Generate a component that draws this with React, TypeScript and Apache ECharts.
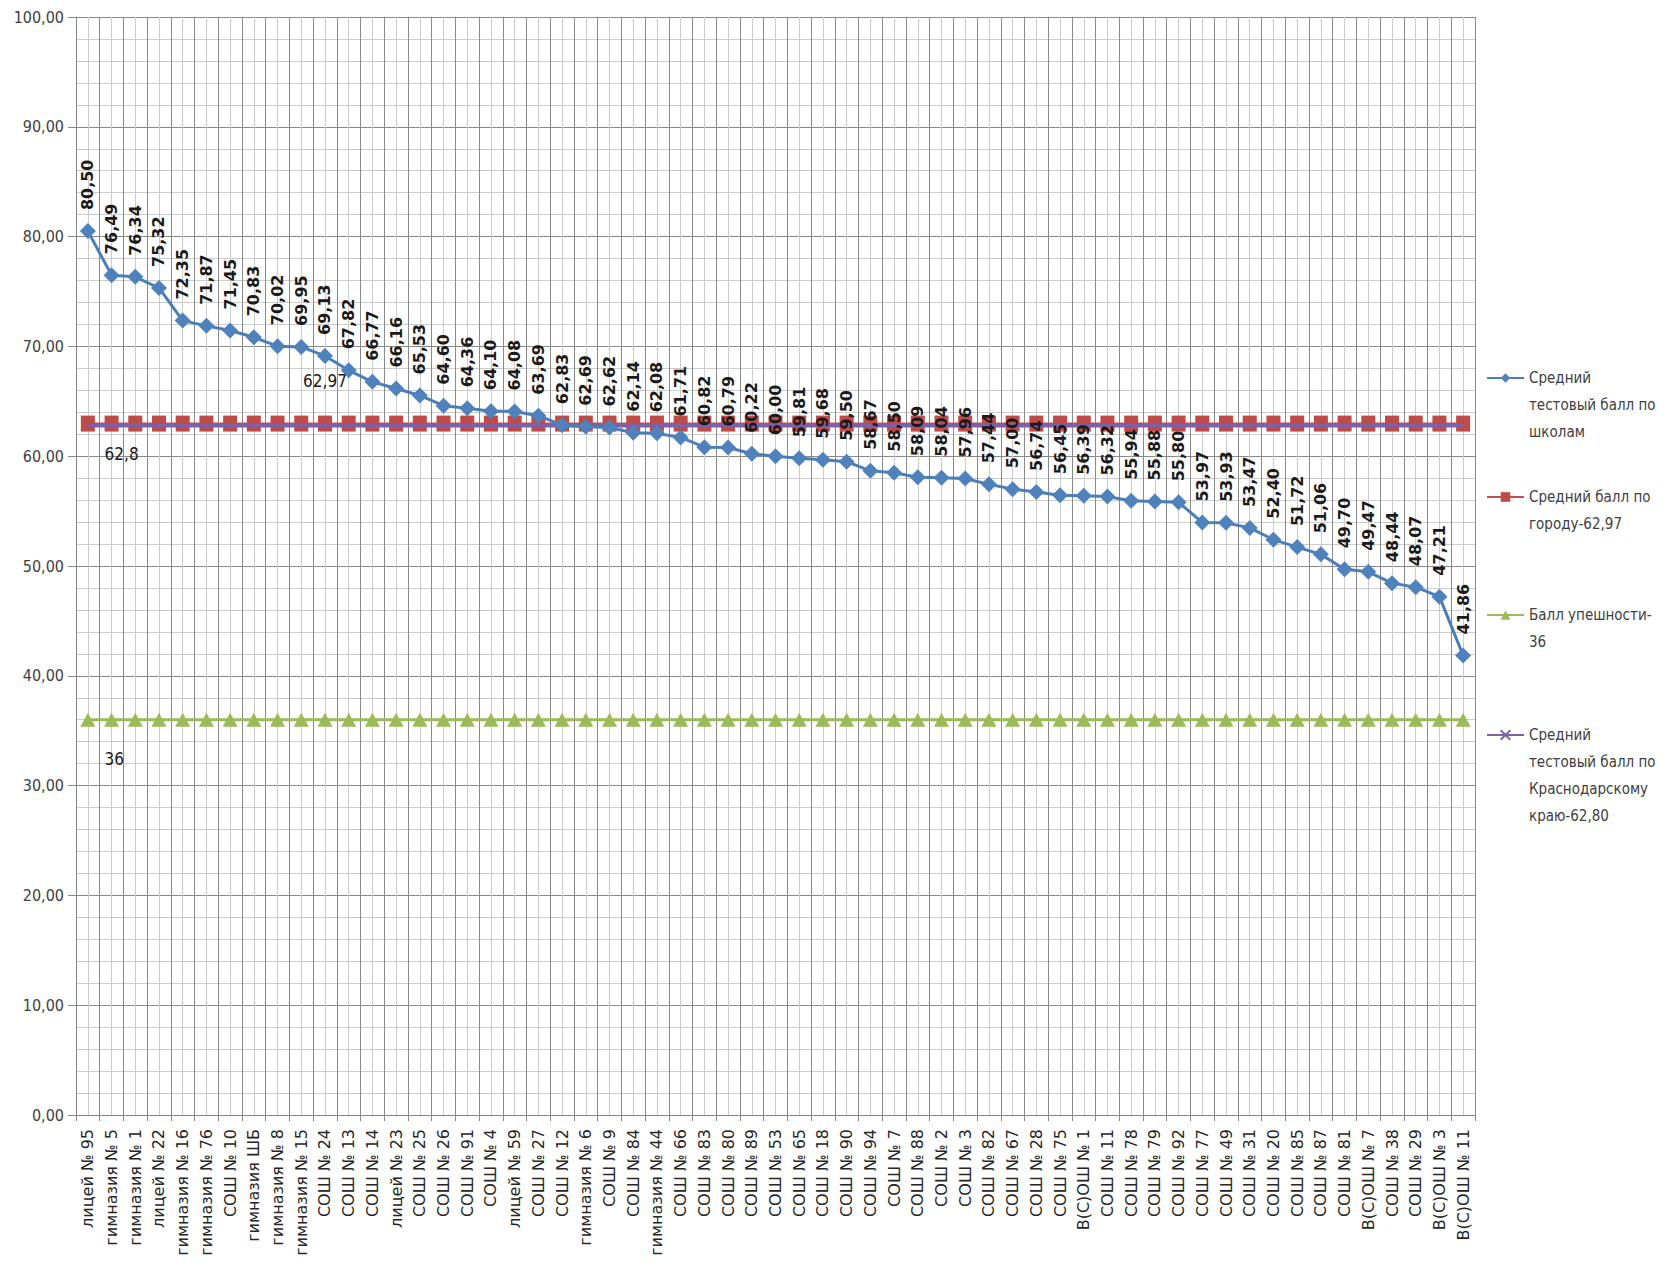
import React, { useEffect, useRef } from "react";
import * as echarts from "echarts";

const schools = [
  "лицей № 95", "гимназия № 5", "гимназия № 1", "лицей № 22", "гимназия № 16",
  "гимназия № 76", "СОШ № 10", "гимназия ШБ", "гимназия № 8", "гимназия № 15",
  "СОШ № 24", "СОШ № 13", "СОШ № 14", "лицей № 23", "СОШ № 25",
  "СОШ № 26", "СОШ № 91", "СОШ № 4", "лицей № 59", "СОШ № 27",
  "СОШ № 12", "гимназия № 6", "СОШ № 9", "СОШ № 84", "гимназия № 44",
  "СОШ № 66", "СОШ № 83", "СОШ № 80", "СОШ № 89", "СОШ № 53",
  "СОШ № 65", "СОШ № 18", "СОШ № 90", "СОШ № 94", "СОШ № 7",
  "СОШ № 88", "СОШ № 2", "СОШ № 3", "СОШ № 82", "СОШ № 67",
  "СОШ № 28", "СОШ № 75", "В(С)ОШ № 1", "СОШ № 11", "СОШ № 78",
  "СОШ № 79", "СОШ № 92", "СОШ № 77", "СОШ № 49", "СОШ № 31",
  "СОШ № 20", "СОШ № 85", "СОШ № 87", "СОШ № 81", "В(С)ОШ № 7",
  "СОШ № 38", "СОШ № 29", "В(С)ОШ № 3", "В(С)ОШ № 11",
];

const schoolScores = [
  80.5, 76.49, 76.34, 75.32, 72.35, 71.87, 71.45, 70.83, 70.02, 69.95,
  69.13, 67.82, 66.77, 66.16, 65.53, 64.6, 64.36, 64.1, 64.08, 63.69,
  62.83, 62.69, 62.62, 62.14, 62.08, 61.71, 60.82, 60.79, 60.22, 60.0,
  59.81, 59.68, 59.5, 58.67, 58.5, 58.09, 58.04, 57.96, 57.44, 57.0,
  56.74, 56.45, 56.39, 56.32, 55.94, 55.88, 55.8, 53.97, 53.93, 53.47,
  52.4, 51.72, 51.06, 49.7, 49.47, 48.44, 48.07, 47.21, 41.86,
];

const cityAverage = 62.97;
const passScore = 36;
const regionAverage = 62.8;

const cityLabelIndex = 10;
const cityLabelText = "62,97";
const regionLabelIndex = 1;
const regionLabelText = "62,8";
const passLabelIndex = 1;
const passLabelText = "36";

const seriesNames = [
  "Средний тестовый балл по школам",
  "Средний балл по городу-62,97",
  "Балл упешности-36",
  "Средний тестовый балл по Краснодарскому краю-62,80",
];
const legendLines = [
  ["Средний", "тестовый балл по", "школам"],
  ["Средний балл по", "городу-62,97"],
  ["Балл упешности-", "36"],
  ["Средний", "тестовый балл по", "Краснодарскому", "краю-62,80"],
];

const Y_MIN = 0;
const Y_MAX = 100;
const Y_STEP = 10;

const fmt = (v: number) => v.toFixed(2).replace(".", ",");

const CONDENSED = "'DejaVu Sans Condensed', 'DejaVu Sans', sans-serif";

export default function App() {
  const ref = useRef<HTMLDivElement>(null);

  useEffect(() => {
    if (!ref.current) return;
    const chart = echarts.init(ref.current, undefined, { renderer: "svg" });

    const legendIconY = [378, 497, 615, 735];
    const lh = 27;
    const legends = seriesNames.map((name, i) => {
      const lines = legendLines[i];
      const n = lines.length;
      const padded = [...Array(n - 1).fill(""), ...lines];
      const total = 2 * n - 1;
      const text = padded.concat(Array(total - padded.length).fill("")).join("\n");
      return {
        data: [name],
        orient: "vertical",
        left: 1486,
        top: legendIconY[i] - (total * lh) / 2,
        padding: 0,
        itemWidth: 37,
        itemHeight: 12,
        selectedMode: false,
        formatter: () => text,
        textStyle: {
          fontSize: 15,
          lineHeight: lh,
          color: "#404040",
          fontFamily: CONDENSED,
        },
      };
    });

    const cityData = schools.map((_, i) =>
      i === cityLabelIndex
        ? {
            value: cityAverage,
            label: {
              show: true,
              position: "top",
              distance: 26,
              formatter: cityLabelText,
              fontSize: 17,
              color: "#1a1a1a",
              fontFamily: CONDENSED,
            },
          }
        : cityAverage
    );
    const regionData = schools.map((_, i) =>
      i === regionLabelIndex
        ? {
            value: regionAverage,
            label: {
              show: true,
              position: "bottom",
              distance: 19,
              align: "left",
              offset: [-7, 0],
              formatter: regionLabelText,
              fontSize: 17,
              color: "#1a1a1a",
              fontFamily: CONDENSED,
            },
          }
        : regionAverage
    );
    const passData = schools.map((_, i) =>
      i === passLabelIndex
        ? {
            value: passScore,
            label: {
              show: true,
              position: "bottom",
              distance: 24,
              align: "left",
              offset: [-7, 0],
              formatter: passLabelText,
              fontSize: 17,
              color: "#1a1a1a",
              fontFamily: CONDENSED,
            },
          }
        : passScore
    );

    chart.setOption({
      animation: false,
      backgroundColor: "#ffffff",
      grid: { left: 76, right: 197, top: 17, bottom: 161, containLabel: false },
      legend: legends,
      xAxis: [
        {
          type: "category",
          data: schools,
          boundaryGap: true,
          axisLine: { show: true, lineStyle: { color: "#868686", width: 1 } },
          axisTick: { show: true, interval: 0, length: 6, lineStyle: { color: "#868686" } },
          axisLabel: {
            interval: 0,
            rotate: 90,
            margin: 14,
            fontSize: 16,
            color: "#262626",
            fontFamily: "'DejaVu Sans', sans-serif",
          },
          splitLine: { show: false },
        },
        {
          type: "value",
          position: "top",
          min: 0,
          max: schools.length * 2,
          interval: 1,
          axisLine: { show: false },
          axisTick: { show: false },
          axisLabel: { show: false },
          splitLine: {
            show: true,
            lineStyle: { color: ["#8a8a8a", "#cccccc"], width: 1 },
          },
        },
      ],
      yAxis: {
        type: "value",
        min: Y_MIN,
        max: Y_MAX,
        interval: Y_STEP,
        axisLine: { show: true, lineStyle: { color: "#868686" } },
        axisTick: { show: true, length: 8, lineStyle: { color: "#868686" } },
        axisLabel: {
          formatter: (v: number) => fmt(v),
          fontSize: 16,
          color: "#404040",
          margin: 12,
          fontFamily: CONDENSED,
        },
        splitLine: { show: true, lineStyle: { color: "#8a8a8a" } },
        minorTick: { show: false, splitNumber: 5 },
        minorSplitLine: { show: true, lineStyle: { color: "#cccccc" } },
      },
      series: [
        {
          name: seriesNames[0],
          type: "line",
          data: schoolScores,
          symbol: "diamond",
          symbolSize: 16,
          z: 6,
          lineStyle: { color: "#4A7EBB", width: 3 },
          itemStyle: { color: "#4F81BD" },
          label: {
            show: true,
            position: "top",
            distance: 13,
            rotate: 90,
            align: "left",
            verticalAlign: "middle",
            formatter: (p: any) => fmt(p.value),
            fontSize: 16,
            fontWeight: "bold",
            color: "#1a1a1a",
            fontFamily: "'DejaVu Sans', sans-serif",
          },
        },
        {
          name: seriesNames[1],
          type: "line",
          data: cityData,
          symbol: "rect",
          symbolSize: [14, 16],
          z: 3,
          lineStyle: { color: "#C0504D", width: 2 },
          itemStyle: { color: "#BE4B48" },
        },
        {
          name: seriesNames[2],
          type: "line",
          data: passData,
          symbol: "triangle",
          symbolSize: [15, 14],
          z: 3,
          lineStyle: { color: "#9BBB59", width: 3 },
          itemStyle: { color: "#9BBB59" },
        },
        {
          name: seriesNames[3],
          type: "line",
          data: regionData,
          symbol: "path://M0,0L10,10M10,0L0,10",
          symbolSize: 1,
          z: 4,
          lineStyle: { color: "#7F5FA8", width: 4 },
          itemStyle: { color: "#8064A2", borderColor: "#8064A2", borderWidth: 1.5 },
        },
      ],
    });

    return () => chart.dispose();
  }, []);

  return (
    <div
      ref={ref}
      style={{ position: "absolute", left: 0, top: 0, width: 1672, height: 1276, background: "#fff" }}
    />
  );
}
